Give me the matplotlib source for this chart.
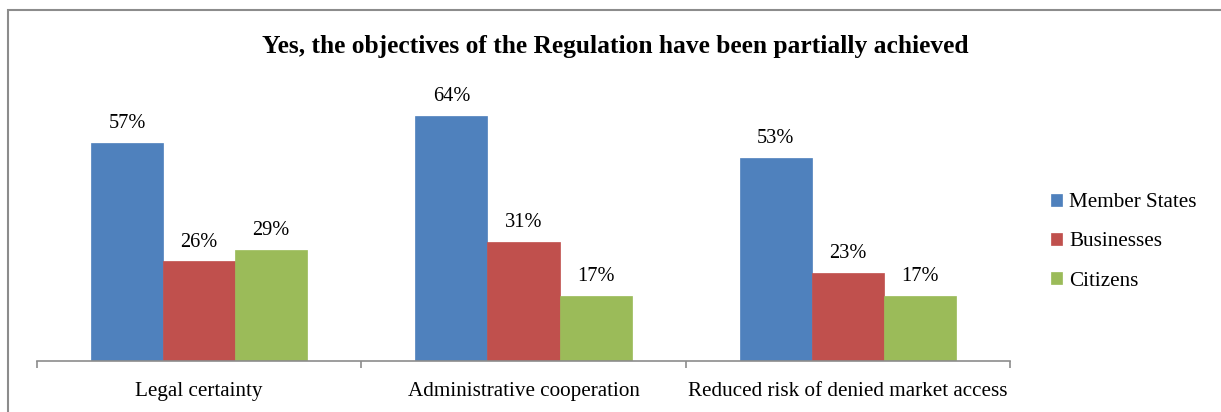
import matplotlib
matplotlib.use("Agg")
import matplotlib.pyplot as plt
from matplotlib.patches import Rectangle
import numpy as np

categories = ["Legal certainty", "Administrative cooperation", "Reduced risk of denied market access"]
series_names = ["Member States", "Businesses", "Citizens"]
member_states = [57, 64, 53]
businesses = [26, 31, 23]
citizens = [29, 17, 17]
colors = ["#4F81BD", "#C0504D", "#9BBB59"]

plt.rcParams['font.family'] = ['Liberation Serif', 'DejaVu Serif']

W, H = 1221, 412
fig = plt.figure(figsize=(W / 100, H / 100), dpi=100)

# outer border of the chart area (extends past right/bottom edges)
fig.patches.append(Rectangle((8 / W, -0.05), 1.2, 1 - 10 / H + 0.05, transform=fig.transFigure,
                             fill=False, edgecolor="#8c8c8c", linewidth=1.5))

ax = fig.add_axes([37 / W, (H - 361) / H, (1010 - 37) / W, (361 - 93) / H])

x = np.arange(len(categories))
bw = 0.222
all_series = [member_states, businesses, citizens]
for i, (vals, name, c) in enumerate(zip(all_series, series_names, colors)):
    pos = x + (i - 1) * bw
    ax.bar(pos, vals, width=bw, color=c, label=name, edgecolor=c, linewidth=0.5)
    for xp, v in zip(pos, vals):
        ax.text(xp, v + 2.6, f"{v}%", ha="center", va="bottom", fontsize=14.7)

ax.set_xlim(-0.5, len(categories) - 0.5)
ax.set_ylim(0, 70)
for s in ["top", "right", "left"]:
    ax.spines[s].set_visible(False)
ax.spines["bottom"].set_color("#8c8c8c")
ax.spines["bottom"].set_linewidth(1.2)
ax.set_yticks([])
ax.set_xticks(np.arange(-0.5, len(categories), 1.0))
ax.set_xticklabels([])
ax.tick_params(axis="x", direction="out", length=5, color="#8c8c8c", width=1.2)
ax.set_xticks(x, minor=True)
ax.set_xticklabels(categories, minor=True, fontsize=15.2)
ax.tick_params(axis="x", which="minor", length=0, pad=15)

fig.text(615 / W, 1 - 47 / H, "Yes, the objectives of the Regulation have been partially achieved",
         ha="center", va="center", fontsize=18.4, fontweight="bold")

leg = ax.legend(loc="center left", bbox_to_anchor=(1032 / W, 1 - 242 / H), bbox_transform=fig.transFigure,
                frameon=False, fontsize=15.2, handlelength=0.5, handleheight=0.5,
                handletextpad=0.35, labelspacing=0.97)

fig.savefig("out.png", dpi=100)
